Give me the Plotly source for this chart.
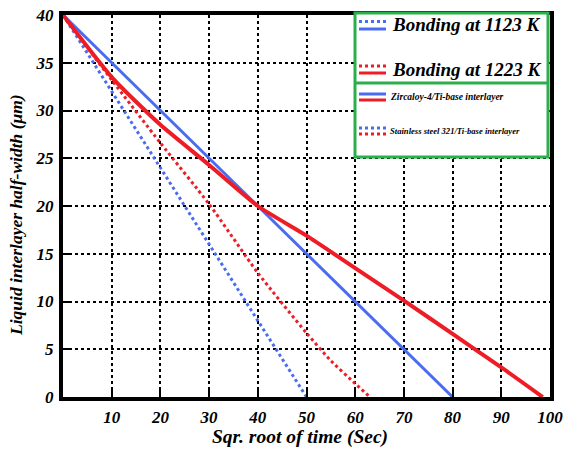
import plotly.graph_objects as go

# ---- data ----
x_zr_1123 = [0, 80]
y_zr_1123 = [40, 0]
x_ss_1123 = [0, 50]
y_ss_1123 = [40, 0]
x_zr_1223 = [0, 10, 20, 30, 40, 50, 60, 70, 80, 90, 98.5]
y_zr_1223 = [40, 33.5, 28.5, 24.3, 20.0, 16.9, 13.5, 10.1, 6.6, 3.1, 0]
x_ss_1223 = [0, 10, 20, 30, 40, 50, 55, 60, 63]
y_ss_1223 = [40, 33.2, 26.6, 20.2, 13.0, 6.7, 3.8, 1.4, 0]

x_ticks = [10, 20, 30, 40, 50, 60, 70, 80, 90, 100]
y_ticks = [0, 5, 10, 15, 20, 25, 30, 35, 40]

legend_titles = ["Bonding at 1123 K", "Bonding at 1223 K"]
legend_materials = ["Zircaloy-4/Ti-base interlayer", "Stainless steel 321/Ti-base interlayer"]

BLUE = "#4a6cf0"
RED = "#ee1c25"
GREEN = "#2ab04a"
FONT = "Liberation Serif"

W, H = 570, 450
L, R, T, B = 63, 20, 15, 53
PW, PH = W - L - R, H - T - B

def px(x):
    return (x - L) / PW

def py(y):
    return (H - B - y) / PH

fig = go.Figure()
fig.add_trace(go.Scatter(x=x_zr_1123, y=y_zr_1123, mode="lines",
                         line=dict(color=BLUE, width=3), showlegend=False))
fig.add_trace(go.Scatter(x=x_ss_1123, y=y_ss_1123, mode="lines",
                         line=dict(color=BLUE, width=3, dash="dot"), showlegend=False))
fig.add_trace(go.Scatter(x=x_zr_1223, y=y_zr_1223, mode="lines",
                         line=dict(color=RED, width=4, shape="spline", smoothing=0.6), showlegend=False))
fig.add_trace(go.Scatter(x=x_ss_1223, y=y_ss_1223, mode="lines",
                         line=dict(color=RED, width=3, dash="dot", shape="spline", smoothing=0.6), showlegend=False))

shapes = []
# legend box
shapes.append(dict(type="rect", xref="paper", yref="paper", x0=px(355), x1=px(548), y0=py(157), y1=py(13),
                   line=dict(color=GREEN, width=3), fillcolor="white", layer="above"))
shapes.append(dict(type="line", xref="paper", yref="paper", x0=px(355), x1=px(548), y0=py(83), y1=py(83),
                   line=dict(color=GREEN, width=3), layer="above"))

def sample(y, color, dash, width):
    shapes.append(dict(type="line", xref="paper", yref="paper", x0=px(359), x1=px(386), y0=py(y), y1=py(y),
                       line=dict(color=color, width=width, dash=dash), layer="above"))

sample(21.5, BLUE, "dot", 3); sample(29, BLUE, "solid", 3)
sample(66, RED, "dot", 3); sample(73, RED, "solid", 3)
sample(94, BLUE, "solid", 3); sample(100, RED, "solid", 3)
sample(128, BLUE, "dot", 3); sample(134, RED, "dot", 3)

annos = []
def label(text, x, y, size):
    annos.append(dict(text=text, xref="paper", yref="paper", x=px(x), y=py(y), xanchor="left", yanchor="middle",
                      showarrow=False, font=dict(family=FONT, size=size, color="black", weight="bold", style="italic")))

label(legend_titles[0], 390, 25, 19)
label(legend_titles[1], 390, 70, 19)
label(legend_materials[0], 388, 97, 9.5)
label(legend_materials[1], 388, 131, 8.6)

# axis titles
annos.append(dict(text="Sqr. root of time (Sec)", xref="paper", yref="paper", x=px(300), y=py(437),
                  xanchor="center", yanchor="middle", showarrow=False,
                  font=dict(family=FONT, size=19.5, color="black", weight="bold", style="italic")))
annos.append(dict(text="Liquid interlayer half-width (μm)", xref="paper", yref="paper", x=px(16), y=py(215),
                  xanchor="center", yanchor="middle", textangle=-90, showarrow=False,
                  font=dict(family=FONT, size=17.5, color="black", weight="bold", style="italic")))

fig.update_layout(
    width=W, height=H, margin=dict(l=L, r=R, t=T, b=B, autoexpand=False),
    paper_bgcolor="white", plot_bgcolor="white",
    shapes=shapes, annotations=annos,
    xaxis=dict(range=[0, 100], tickvals=x_ticks, ticktext=[str(v) for v in x_ticks],
               showgrid=True, gridcolor="black", gridwidth=1.5, griddash="dot",
               showline=True, linecolor="black", linewidth=4, mirror=True,
               ticks="inside", ticklen=9, tickwidth=2, tickcolor="black", automargin=False,
               tickfont=dict(family=FONT, size=17, color="black", weight="bold", style="italic"),
               ticklabelstandoff=2, zeroline=False),
    yaxis=dict(range=[0, 40], tickvals=y_ticks, ticktext=[str(v) for v in y_ticks],
               showgrid=True, gridcolor="black", gridwidth=1.5, griddash="dot",
               showline=True, linecolor="black", linewidth=4, mirror=True,
               ticks="inside", ticklen=9, tickwidth=2, tickcolor="black", automargin=False,
               tickfont=dict(family=FONT, size=17, color="black", weight="bold", style="italic"),
               ticklabelstandoff=2, zeroline=False),
)

fig.write_html("out.html")
